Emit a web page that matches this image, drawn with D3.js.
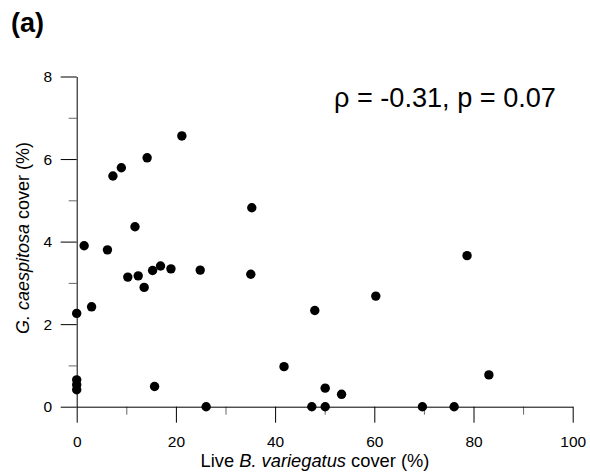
<!DOCTYPE html>
<html>
<head>
<meta charset="utf-8">
<script src="https://cdn.jsdelivr.net/npm/d3@7/dist/d3.min.js"></script>
<style>
  body { margin: 0; background: #fff; }
  svg { font-family: "Liberation Sans", Arial, sans-serif; }
</style>
</head>
<body>
<svg id="chart" width="590" height="475"></svg>
<script>
// Live B. variegatus cover (%)
const liveCover = [0, 0, 0, 0, 1.5, 3.0, 6.2, 7.3, 9.0, 10.3, 11.75, 12.4, 13.6, 14.2, 15.3, 15.7, 16.9, 19.0, 21.2, 24.9, 26.1, 35.1, 35.3, 41.8, 47.4, 48.0, 50.1, 50.1, 53.4, 60.3, 69.7, 76.1, 78.7, 83.1];
// G. caespitosa cover (%)
const gCover = [2.26, 0.65, 0.53, 0.41, 3.90, 2.42, 3.80, 5.59, 5.79, 3.14, 4.36, 3.17, 2.89, 6.03, 3.30, 0.49, 3.41, 3.34, 6.56, 3.31, 0, 3.21, 4.82, 0.97, 0, 2.33, 0.45, 0, 0.30, 2.68, 0, 0, 3.66, 0.77];
const xMajorTicks = [0, 20, 40, 60, 80, 100];
const xMinorTicks = [10, 30, 50, 70, 90];
const yMajorTicks = [0, 2, 4, 6, 8];
const yMinorTicks = [1, 3, 5, 7];
const annotation = "ρ = -0.31, p = 0.07";
const panelLabel = "(a)";

const svg = d3.select("#chart");
const x = d3.scaleLinear().domain([0, 100]).range([76.7, 572.7]);
const y = d3.scaleLinear().domain([0, 8]).range([406.7, 76.5]);

function fitWidth(sel, target) {
  const w = sel.node().getBBox().width;
  const fs = parseFloat(sel.attr("font-size"));
  sel.attr("font-size", (fs * target / w).toFixed(2));
}

// minor ticks (grey)
svg.append("g")
  .attr("transform", `translate(0,${y(0)})`)
  .call(d3.axisBottom(x).tickValues(xMinorTicks).tickSize(8).tickSizeOuter(0).tickFormat(""))
  .call(g => g.select(".domain").remove())
  .call(g => g.selectAll("line").attr("stroke", "#666"));
svg.append("g")
  .attr("transform", `translate(${x(0)},0)`)
  .call(d3.axisLeft(y).tickValues(yMinorTicks).tickSize(8).tickSizeOuter(0).tickFormat(""))
  .call(g => g.select(".domain").remove())
  .call(g => g.selectAll("line").attr("stroke", "#666"));

// major axes
svg.append("g")
  .attr("transform", `translate(0,${y(0)})`)
  .call(d3.axisBottom(x).tickValues(xMajorTicks).tickSize(16).tickSizeOuter(0).tickPadding(13))
  .call(g => g.attr("font-family", null).attr("font-size", null))
  .call(g => g.selectAll("text").attr("font-size", 15.5).attr("fill", "#000")
                 .attr("dy", null).attr("y", 40.6));
svg.append("g")
  .attr("transform", `translate(${x(0)},0)`)
  .call(d3.axisLeft(y).tickValues(yMajorTicks).tickSize(16).tickSizeOuter(0).tickPadding(9))
  .call(g => g.attr("font-family", null).attr("font-size", null))
  .call(g => g.selectAll("text").attr("font-size", 15.5).attr("fill", "#000").attr("x", -24.5));
svg.selectAll(".domain, .tick line").attr("stroke-width", 1);

// points
svg.append("g")
  .selectAll("circle")
  .data(liveCover.map((d, i) => [d, gCover[i]]))
  .join("circle")
  .attr("cx", d => x(d[0]))
  .attr("cy", d => y(d[1]))
  .attr("r", 4.7)
  .attr("fill", "#000");

// axis labels
const xl = svg.append("text")
  .attr("x", 315).attr("y", 467)
  .attr("text-anchor", "middle").attr("font-size", 15.5);
xl.append("tspan").text("Live ");
xl.append("tspan").attr("font-style", "italic").text("B. variegatus");
xl.append("tspan").text(" cover (%)");
fitWidth(xl, 229);

const yl = svg.append("text")
  .attr("transform", "translate(29,238) rotate(-90)")
  .attr("text-anchor", "middle").attr("font-size", 15.5);
yl.append("tspan").attr("font-style", "italic").text("G. caespitosa");
yl.append("tspan").text(" cover (%)");
fitWidth(yl, 192);

// annotation
const ann = svg.append("text")
  .attr("x", 334).attr("y", 106.7)
  .attr("font-size", 25)
  .text(annotation);
fitWidth(ann, 222);

// panel label
const pl = svg.append("text")
  .attr("x", 11).attr("y", 32)
  .attr("font-size", 20).attr("font-weight", "bold")
  .text(panelLabel);
fitWidth(pl, 33);
</script>
</body>
</html>
